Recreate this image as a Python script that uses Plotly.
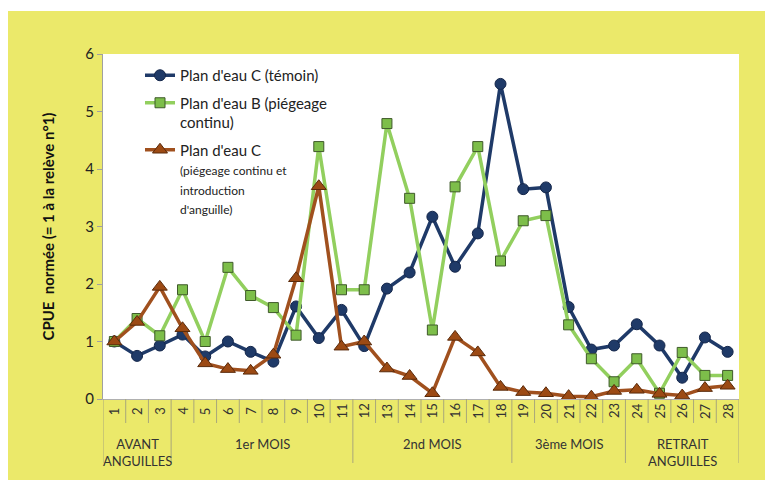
import plotly.graph_objects as go

# ---- data ----
categories = list(range(1, 29))
tick_labels = [str(c) for c in categories]

temoin = [1.0, 0.75, 0.93, 1.12, 0.74, 1.0, 0.82, 0.65, 1.61, 1.06, 1.55, 0.92, 1.92, 2.2,
          3.17, 2.30, 2.88, 5.48, 3.65, 3.68, 1.6, 0.86, 0.93, 1.30, 0.93, 0.37, 1.07, 0.82]
piegeage_B = [1.0, 1.40, 1.10, 1.90, 1.0, 2.29, 1.80, 1.59, 1.11, 4.39, 1.90, 1.90, 4.79, 3.49,
              1.2, 3.69, 4.39, 2.40, 3.10, 3.19, 1.29, 0.70, 0.30, 0.70, 0.10, 0.81, 0.41, 0.41]
anguille_C = [1.0, 1.34, 1.95, 1.23, 0.62, 0.52, 0.49, 0.77, 2.10, 3.70, 0.91, 1.0, 0.53, 0.40,
              0.10, 1.08, 0.81, 0.21, 0.12, 0.10, 0.05, 0.04, 0.14, 0.16, 0.09, 0.06, 0.19, 0.23]

group_labels = ["AVANT<br>ANGUILLES", "1er MOIS", "2nd MOIS", "3ème MOIS", "RETRAIT<br>ANGUILLES"]
group_first = [1, 4, 12, 19, 24]
group_last = [3, 11, 18, 23, 28]

y_ticks = [0, 1, 2, 3, 4, 5, 6]

# ---- layout geometry (page pixels; the page body adds an 8px offset) ----
OFF = 8
W, H = 773 - OFF, 480 - OFF
L, R, T, B = 103 - OFF, 739 - OFF, 54 - OFF, 399 - OFF
pw, ph = R - L, B - T


def px_x(px):
    return (px - OFF - L) / pw


def px_y(py):
    return (B - (py - OFF)) / ph


FONT = "Lato, 'Open Sans', sans-serif"
small = "<span style='font-size:12px'>{}</span>"

fig = go.Figure()
fig.add_trace(go.Scatter(
    x=categories, y=temoin, mode="lines+markers",
    name="Plan d'eau C (témoin)", legendgroup="a",
    line=dict(color="#1F3A68", width=3.5),
    marker=dict(symbol="circle", size=11, color="#1F3A68",
                line=dict(color="#14264a", width=1)),
))
fig.add_trace(go.Scatter(
    x=categories, y=piegeage_B, mode="lines+markers",
    name="Plan d'eau B (piégeage<br>continu)", legendgroup="b",
    line=dict(color="#92CF5E", width=3.5),
    marker=dict(symbol="square", size=10, color="#7DBE4A",
                line=dict(color="#3f5a2a", width=1)),
))
fig.add_trace(go.Scatter(
    x=categories, y=anguille_C, mode="lines+markers",
    name="Plan d'eau C<br>" + "<br>".join(small.format(s) for s in
                                         ["(piégeage continu et", "introduction", "d'anguille)"]),
    legendgroup="c",
    line=dict(color="#A0501E", width=3.5),
    marker=dict(symbol="triangle-up", size=13, color="#9C4A14",
                line=dict(color="#5a2a0a", width=1)),
))

shapes = []
# white strip above the yellow frame
shapes.append(dict(type="rect", xref="paper", yref="paper", x0=-0.3, x1=1.3,
                   y0=px_y(11), y1=1.5, fillcolor="white", line=dict(width=0), layer="below"))

sep_color = "#A9A77A"
short_end = px_y(423)
long_end = px_y(463)
boundaries = set([f - 0.5 for f in group_first] + [group_last[-1] + 0.5])
for k in range(len(categories) + 1):
    xv = categories[0] - 0.5 + k
    shapes.append(dict(type="line", xref="x", yref="paper", x0=xv, x1=xv,
                       y0=0, y1=long_end if xv in boundaries else short_end,
                       line=dict(color=sep_color, width=1)))

annotations = []
for c, lab in zip(categories, tick_labels):
    annotations.append(dict(x=c, y=px_y(411), xref="x", yref="paper", text=lab,
                            textangle=-90, showarrow=False,
                            font=dict(family=FONT, size=13, color="#333333"),
                            xanchor="center", yanchor="middle"))
for lab, f, l in zip(group_labels, group_first, group_last):
    annotations.append(dict(x=(f + l) / 2, y=px_y(434), xref="x", yref="paper", text=lab,
                            showarrow=False, font=dict(family=FONT, size=13, color="#333333"),
                            xanchor="center", yanchor="top", align="center"))
annotations.append(dict(x=px_x(47), y=0.5, xref="paper", yref="paper",
                        text="<b>CPUE  normée (= 1 à la relève n°1)</b>", textangle=-90,
                        showarrow=False, font=dict(family=FONT, size=15, color="#111111"),
                        xanchor="center", yanchor="middle"))

fig.update_layout(
    width=W, height=H,
    margin=dict(l=L, r=W - R, t=T, b=H - B, pad=0),
    paper_bgcolor="#EBE96A",
    plot_bgcolor="white",
    font=dict(family=FONT, size=14, color="#222222"),
    showlegend=True,
    legend=dict(x=px_x(140), y=px_y(59), xanchor="left", yanchor="top",
                bgcolor="rgba(0,0,0,0)", valign="top", tracegroupgap=5,
                font=dict(family=FONT, size=15, color="#222222")),
    xaxis=dict(range=[0.5, 28.5], showticklabels=False, ticks="", showgrid=False,
               zeroline=False, showline=True, linecolor="#B0B0B0", linewidth=1,
               fixedrange=True),
    yaxis=dict(range=[0, 6], tickvals=y_ticks, ticks="outside", ticklen=5,
               tickcolor="#A0A0A0", showgrid=False, zeroline=False, showline=True,
               linecolor="#A0A0A0", linewidth=1,
               tickfont=dict(family=FONT, size=15, color="#222222"), fixedrange=True),
    shapes=shapes,
    annotations=annotations,
)

fig.write_html("out.html")
